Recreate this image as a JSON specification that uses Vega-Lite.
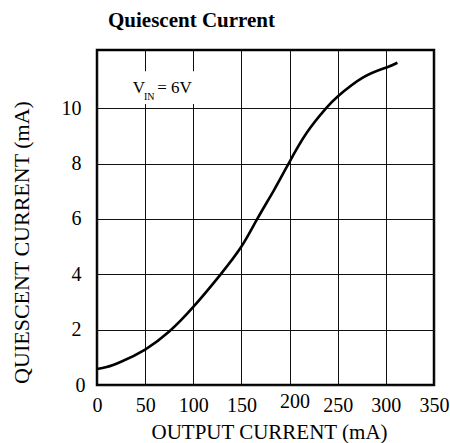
{
  "$schema": "https://vega.github.io/schema/vega-lite/v6.json",
  "width": 337,
  "height": 335,
  "autosize": "none",
  "padding": {"left": 97, "top": 50, "right": 16, "bottom": 58},
  "background": "white",
  "config": {
    "font": "Liberation Serif",
    "view": {"stroke": "black", "strokeWidth": 2.5}
  },
  "title": {
    "text": "Quiescent Current",
    "anchor": "start",
    "frame": "group",
    "dx": 11,
    "offset": 2,
    "baseline": "alphabetic",
    "fontSize": 21,
    "fontWeight": "bold",
    "font": "Liberation Serif",
    "color": "black"
  },
  "datasets": {
    "curve": [
      {"x": 0, "y": 0.58},
      {"x": 10, "y": 0.65},
      {"x": 25, "y": 0.84},
      {"x": 50, "y": 1.28},
      {"x": 75, "y": 1.93},
      {"x": 100, "y": 2.82},
      {"x": 128, "y": 3.98},
      {"x": 150, "y": 5.0},
      {"x": 166, "y": 5.97},
      {"x": 184, "y": 7.05},
      {"x": 199, "y": 8.0},
      {"x": 218, "y": 9.12},
      {"x": 238, "y": 10.0},
      {"x": 250, "y": 10.42},
      {"x": 276, "y": 11.1},
      {"x": 300, "y": 11.46},
      {"x": 312, "y": 11.64}
    ],
    "box": [{"x": 40, "xe": 103, "y": 10.15, "ye": 11.33}],
    "big": [
      {"x": 37, "y": 10.53, "label": "V"},
      {"x": 62.6, "y": 10.53, "label": "= 6V"}
    ],
    "small": [{"x": 48.8, "y": 10.29, "label": "IN"}]
  },
  "layer": [
    {
      "data": {"name": "curve"},
      "mark": {"type": "line", "color": "black", "strokeWidth": 2.6, "interpolate": "natural"},
      "encoding": {
        "x": {
          "field": "x",
          "type": "quantitative",
          "scale": {"domain": [0, 350], "nice": false, "zero": false},
          "axis": {
            "title": "OUTPUT CURRENT (mA)",
            "values": [0, 50, 100, 150, 200, 250, 300, 350],
            "grid": true,
            "gridColor": "#111",
            "gridWidth": 1,
            "domain": false,
            "ticks": false,
            "tickSize": 0,
            "labelFontSize": 20,
            "labelColor": "black",
            "labelFont": "Liberation Serif",
            "labelPadding": {"condition": {"test": "datum.value == 200", "value": 6}, "value": 10},
            "labelOffset": {"condition": {"test": "datum.value == 200", "value": 5}, "value": 0},
            "labelFlush": false,
            "labelOverlap": false,
            "titleFontSize": 21,
            "titleFontWeight": "normal",
            "titleColor": "black",
            "titleFont": "Liberation Serif",
            "titleX": 172,
            "titleY": 53,
            "titleBaseline": "alphabetic",
            "titleAlign": "center"
          }
        },
        "y": {
          "field": "y",
          "type": "quantitative",
          "scale": {"domain": [0, 12.1], "nice": false, "zero": false},
          "axis": {
            "title": "QUIESCENT CURRENT (mA)",
            "values": [0, 2, 4, 6, 8, 10],
            "grid": true,
            "gridColor": "#111",
            "gridWidth": 1,
            "domain": false,
            "ticks": false,
            "tickSize": 0,
            "labelFontSize": 20,
            "labelColor": "black",
            "labelFont": "Liberation Serif",
            "labelPadding": {"condition": {"test": "datum.value == 0", "value": 12}, "value": 16},
            "labelFlush": false,
            "labelOverlap": false,
            "titleFontSize": 22,
            "titleFontWeight": "normal",
            "titleColor": "black",
            "titleFont": "Liberation Serif",
            "titleX": -64,
            "titleY": 192,
            "titleAlign": "center"
          }
        }
      }
    },
    {
      "data": {"name": "box"},
      "mark": {"type": "rect", "fill": "white", "stroke": null},
      "encoding": {
        "x": {"field": "x", "type": "quantitative", "title": "OUTPUT CURRENT (mA)"},
        "x2": {"field": "xe"},
        "y": {"field": "y", "type": "quantitative", "title": "QUIESCENT CURRENT (mA)"},
        "y2": {"field": "ye"}
      }
    },
    {
      "data": {"name": "big"},
      "mark": {"type": "text", "align": "left", "baseline": "alphabetic", "fontSize": 17, "font": "Liberation Serif", "color": "black"},
      "encoding": {
        "x": {"field": "x", "type": "quantitative", "title": "OUTPUT CURRENT (mA)"},
        "y": {"field": "y", "type": "quantitative", "title": "QUIESCENT CURRENT (mA)"},
        "text": {"field": "label"}
      }
    },
    {
      "data": {"name": "small"},
      "mark": {"type": "text", "align": "left", "baseline": "alphabetic", "fontSize": 10, "font": "Liberation Serif", "color": "black"},
      "encoding": {
        "x": {"field": "x", "type": "quantitative", "title": "OUTPUT CURRENT (mA)"},
        "y": {"field": "y", "type": "quantitative", "title": "QUIESCENT CURRENT (mA)"},
        "text": {"field": "label"}
      }
    }
  ]
}
